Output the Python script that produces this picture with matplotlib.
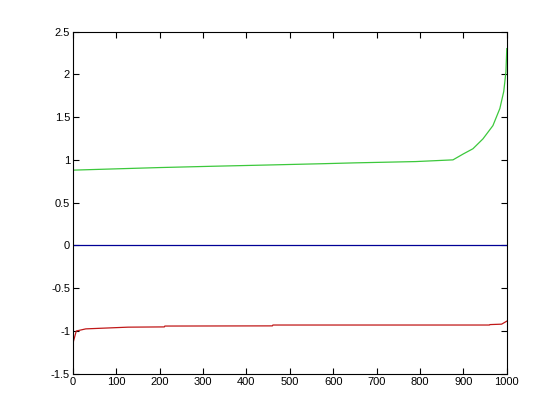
import matplotlib
matplotlib.use("Agg")
import matplotlib.pyplot as plt

plt.rcParams['font.family'] = ['Liberation Sans', 'DejaVu Sans']
plt.rcParams['axes.unicode_minus'] = False

# values (sorted curves, index 1..1000)
green_x = [1, 100, 200, 320, 450, 575, 650, 790, 876, 900, 922, 945, 968, 984, 993, 998, 1000]
green_y = [0.88, 0.895, 0.91, 0.925, 0.94, 0.955, 0.965, 0.98, 1.0, 1.07, 1.13, 1.245, 1.40, 1.60, 1.80, 2.03, 2.30]

blue_x = [1, 1000]
blue_y = [0.0, 0.0]

red_x = [1, 8, 30, 127, 211, 212, 460, 461, 960, 961, 988, 1000]
red_y = [-1.13, -1.0, -0.975, -0.955, -0.952, -0.942, -0.94, -0.93, -0.93, -0.925, -0.92, -0.885]

xticks = [0, 100, 200, 300, 400, 500, 600, 700, 800, 900, 1000]
yticks = [-1.5, -1, -0.5, 0, 0.5, 1, 1.5, 2, 2.5]
ytick_labels = ['-1.5', '-1', '-0.5', '0', '0.5', '1', '1.5', '2', '2.5']

fig = plt.figure(figsize=(5.6, 4.2), dpi=100)
ax = fig.add_axes([0.13, 0.11, 0.775, 0.815])

ax.plot(green_x, green_y, color='#3cc83c', linewidth=0.9)
ax.plot(blue_x, blue_y, color='#000096', linewidth=0.9)
ax.plot(red_x, red_y, color='#c01818', linewidth=0.9)

ax.set_xlim(0, 1000)
ax.set_ylim(-1.5, 2.5)
ax.set_xticks(xticks)
ax.set_xticklabels([str(t) for t in xticks])
ax.set_yticks(yticks)
ax.set_yticklabels(ytick_labels)

ax.tick_params(direction='in', length=4, width=0.8, labelsize=8,
               top=True, right=True, pad=2)
for s in ax.spines.values():
    s.set_linewidth(0.8)

fig.savefig('out.png', dpi=100)
